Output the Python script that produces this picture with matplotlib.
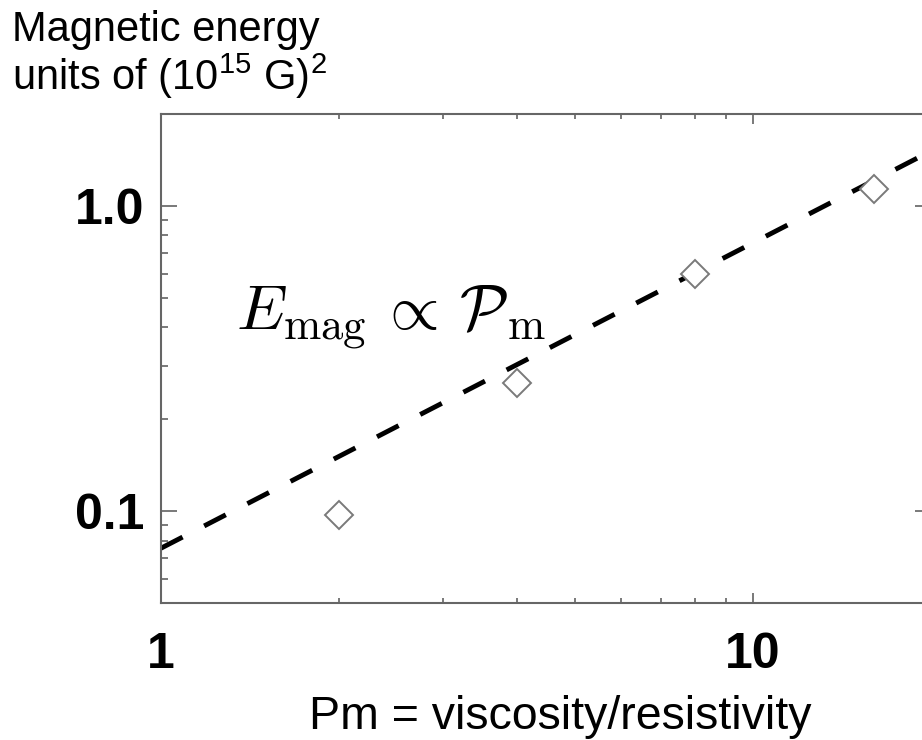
import matplotlib.pyplot as plt
import numpy as np
from matplotlib.ticker import FixedLocator, FixedFormatter, LogLocator, NullFormatter

# simulation results: magnetic energy vs magnetic Prandtl number
pm = [2, 4, 8, 16]
emag = [0.097, 0.263, 0.598, 1.137]

# linear scaling E_mag = coef * Pm
fit_coef = 0.0756
fit_x = [1, 20]

xticks = [1, 10]
xticklabels = ['1', '10']
yticks = [0.1, 1.0]
yticklabels = ['0.1', '1.0']

plt.rcParams['font.family'] = ['Liberation Sans', 'DejaVu Sans']

fig = plt.figure(figsize=(9.22, 7.4), dpi=100)
ax = fig.add_axes([0.1746, 0.1851, 0.835, 0.6608])

ax.plot(fit_x, [fit_coef * x for x in fit_x], color='black', lw=3.5,
        dashes=(5, 5), zorder=2)
ax.plot(pm, emag, ls='none', marker='D', ms=14.5, mfc='white',
        mec='#7a7a7a', mew=1.4, zorder=3)

ax.set_xscale('log')
ax.set_yscale('log')
ax.set_xlim(1, 20)
ax.set_ylim(0.05, 2.0)

ax.xaxis.set_major_locator(FixedLocator(xticks))
ax.xaxis.set_major_formatter(FixedFormatter(xticklabels))
ax.yaxis.set_major_locator(FixedLocator(yticks))
ax.yaxis.set_major_formatter(FixedFormatter(yticklabels))
for axis in (ax.xaxis, ax.yaxis):
    axis.set_minor_locator(LogLocator(base=10, subs=np.arange(2, 10)))
    axis.set_minor_formatter(NullFormatter())

ax.tick_params(which='both', direction='in', top=True, right=True,
               color='#555555', width=1.1)
ax.tick_params(axis='x', which='major', length=7.2, pad=21)
ax.tick_params(axis='x', which='minor', length=3.6)
ax.tick_params(axis='y', which='major', length=11.5, pad=12)
ax.tick_params(axis='y', which='minor', length=5)
for lab in ax.get_xticklabels() + ax.get_yticklabels():
    lab.set_fontsize(36)
    lab.set_fontweight('bold')

for sp in ax.spines.values():
    sp.set_color('#666666')
    sp.set_linewidth(1.5)

ax.text(1.34, 0.392,
        r'$E_{\mathrm{mag}}\,\propto\,\mathcal{P}_{\mathrm{m}}$',
        fontsize=46, math_fontfamily='cm', va='baseline', ha='left')

fig.text(560 / 922, 11 / 740, 'Pm = viscosity/resistivity', fontsize=33.5,
         ha='center', va='baseline')
fig.text(12 / 922, 1 - 41 / 740, 'Magnetic energy', fontsize=30,
         ha='left', va='baseline')
fig.text(12 / 922, 1 - 90 / 740,
         r'units of (10$^{\mathregular{15}}$ G)$^{\mathregular{2}}$',
         fontsize=30, ha='left', va='baseline')

fig.savefig('out.png', dpi=100)
